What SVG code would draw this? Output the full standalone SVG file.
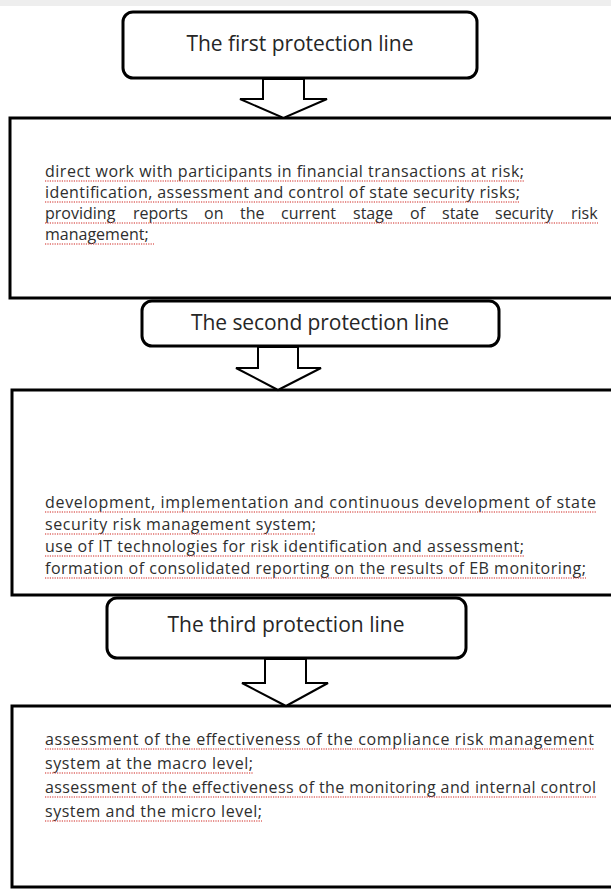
<svg xmlns="http://www.w3.org/2000/svg" width="611" height="890" viewBox="0 0 611 890">
<style>
.title{font-family:"Open Sans","Noto Sans","Liberation Sans",sans-serif;font-size:21px;fill:#262626;text-anchor:middle}
.body{font-family:"Open Sans","Noto Sans","Liberation Sans",sans-serif;font-size:16px;fill:#2e2e2e}
.rbox{fill:#ffffff;stroke:#000;stroke-width:3}
.panel{fill:#ffffff;stroke:#000;stroke-width:3}
.arrow{fill:#ffffff;stroke:#000;stroke-width:2;stroke-linejoin:miter}
.sq{stroke:#d9534f;stroke-width:1.6;stroke-dasharray:1.2 1.2;fill:none;opacity:0.85}
</style>
<rect x="0" y="0" width="611" height="890" fill="#ffffff"/>
<rect x="0" y="0" width="611" height="6" fill="#eeeeee"/>

<g id="panel1">
  <rect class="panel" x="10" y="118" width="610" height="180"/>
  <text class="body" x="45" y="177" textLength="479" lengthAdjust="spacing">direct work with participants in financial transactions at risk;</text>
  <text class="body" x="45" y="198" textLength="475" lengthAdjust="spacing">identification, assessment and control of state security risks;</text>
  <text class="body" y="219"><tspan x="45">providing</tspan><tspan x="133">reports</tspan><tspan x="204">on</tspan><tspan x="240">the</tspan><tspan x="281">current</tspan><tspan x="353">stage</tspan><tspan x="410">of</tspan><tspan x="442">state</tspan><tspan x="495">security</tspan><tspan x="571">risk</tspan></text>
  <text class="body" x="45" y="240">management;</text>
  <g class="sq">
    <path d="M45 181H524M45 202H520M45 223H598M45 244H154"/>
  </g>
</g>

<g id="panel2">
  <rect class="panel" x="12" y="390" width="610" height="205"/>
  <text class="body" x="45" y="508" textLength="551" lengthAdjust="spacing">development, implementation and continuous development of state</text>
  <text class="body" x="45" y="530" textLength="271" lengthAdjust="spacing">security risk management system;</text>
  <text class="body" x="45" y="552" textLength="479" lengthAdjust="spacing">use of IT technologies for risk identification and assessment;</text>
  <text class="body" x="45" y="574" textLength="541" lengthAdjust="spacing">formation of consolidated reporting on the results of EB monitoring;</text>
  <g class="sq">
    <path d="M45 512H596M45 534H316M45 556H524M45 578H586"/>
  </g>
</g>

<g id="panel3">
  <rect class="panel" x="12" y="706" width="610" height="181"/>
  <text class="body" x="45" y="745" textLength="549" lengthAdjust="spacing">assessment of the effectiveness of the compliance risk management</text>
  <text class="body" x="45" y="769" textLength="208" lengthAdjust="spacing">system at the macro level;</text>
  <text class="body" x="45" y="793" textLength="551" lengthAdjust="spacing">assessment of the effectiveness of the monitoring and internal control</text>
  <text class="body" x="45" y="817" textLength="217" lengthAdjust="spacing">system and the micro level;</text>
  <g class="sq">
    <path d="M45 749H594M45 773H253M45 797H596M45 821H262"/>
  </g>
</g>

<g id="line1">
  <rect class="rbox" x="123" y="12" width="354" height="66" rx="10" ry="10"/>
  <text class="title" x="300" y="51" textLength="227" lengthAdjust="spacing">The first protection line</text>
</g>

<g id="line2">
  <rect class="rbox" x="142" y="301" width="357" height="45" rx="10" ry="10"/>
  <text class="title" x="320" y="330" textLength="258" lengthAdjust="spacing">The second protection line</text>
</g>

<g id="line3">
  <rect class="rbox" x="107" y="598" width="359" height="60" rx="10" ry="10"/>
  <text class="title" x="286" y="632" textLength="237" lengthAdjust="spacing">The third protection line</text>
</g>

<g id="connectors">
  <polygon class="arrow" points="263,79 263,99 240,99 283.5,118 327,99 304,99 304,79"/>
  <polygon class="arrow" points="258,347 258,368 236,368 278,390 321,368 298,368 298,347"/>
  <polygon class="arrow" points="265,659 265,683 242,683 286,706 328,683 306,683 306,659"/>
</g>
</svg>
